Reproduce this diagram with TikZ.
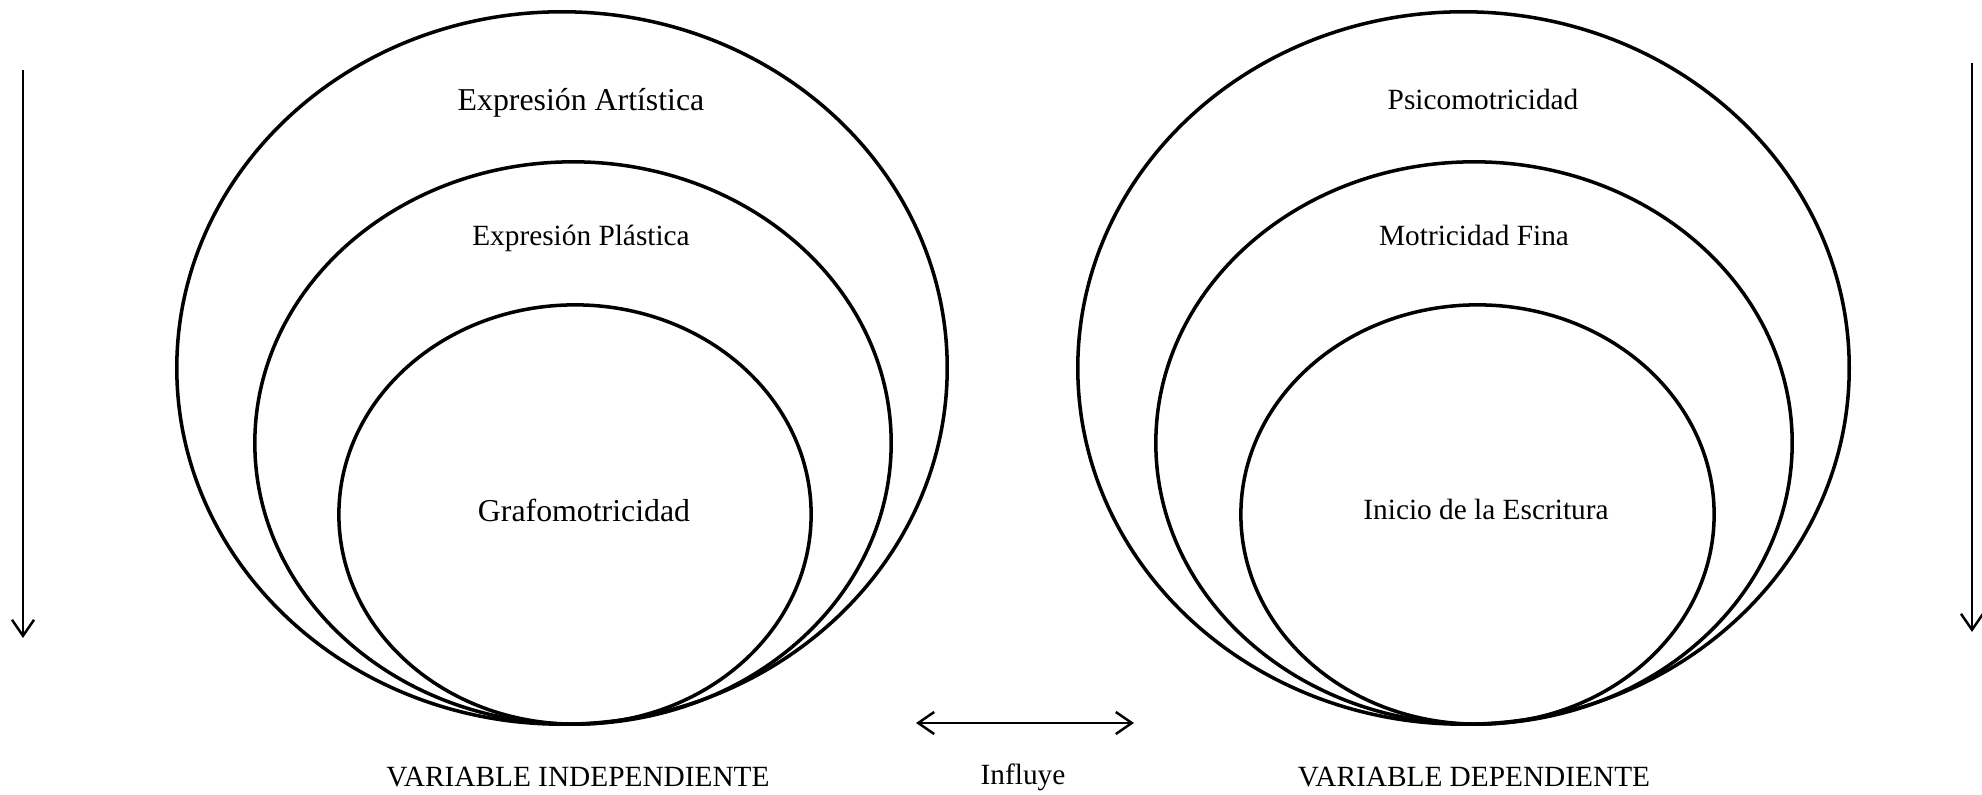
\documentclass[tikz,border=0pt]{standalone}
\usepackage{fontspec}
\setmainfont{Liberation Serif}
\usetikzlibrary{arrows.meta}
\tikzset{
  ring/.style={line width=1pt},
  lbl/.style={anchor=base, inner sep=0pt},
  big/.style={font=\fontsize{9.05}{10}\selectfont},
  small/.style={font=\fontsize{8.34}{10}\selectfont},
  arr/.style={line width=0.7pt, -{Straight Barb[length=1.6mm,width=2.2mm]}},
  darr/.style={line width=0.7pt, {Straight Barb[length=1.6mm,width=2.2mm]}-{Straight Barb[length=1.6mm,width=2.2mm]}}
}
\begin{document}
\begin{tikzpicture}[x=0.01cm,y=-0.01cm]
\useasboundingbox (0,0) rectangle (1982,795);
% left ellipses
\draw[ring] (562,368) ellipse [x radius=3.85cm, y radius=3.56cm];
\draw[ring] (573,443) ellipse [x radius=3.18cm, y radius=2.81cm];
\draw[ring] (575,514.5) ellipse [x radius=2.36cm, y radius=2.095cm];
% right ellipses
\draw[ring] (1463.5,368) ellipse [x radius=3.855cm, y radius=3.56cm];
\draw[ring] (1474,443) ellipse [x radius=3.18cm, y radius=2.81cm];
\draw[ring] (1477.5,514.5) ellipse [x radius=2.365cm, y radius=2.095cm];
% labels
\node[lbl,big] (ea) at (581,111) {Expresión Artística};
\node[lbl,small] (ep) at (581,246) {Expresión Plástica};
\node[lbl,big] (gm) at (584,522) {Grafomotricidad};
\node[lbl,small] (pm) at (1483,110) {Psicomotricidad};
\node[lbl,small] (mf) at (1474,246) {Motricidad Fina};
\node[lbl,small] (ie) at (1486,520) {Inicio de la Escritura};
\node[lbl,small] (vi) at (578,787) {VARIABLE INDEPENDIENTE};
\node[lbl,small] (inf) at (1023,785) {Influye};
\node[lbl,small] (vd) at (1474,787) {VARIABLE DEPENDIENTE};
% arrows
\coordinate (la1) at (23,70);
\coordinate (la2) at (23,638);
\coordinate (ra1) at (1972,63);
\coordinate (ra2) at (1972,632);
\coordinate (da1) at (916,723);
\coordinate (da2) at (1134,723);
\draw[arr] (la1) -- (la2);
\draw[arr] (ra1) -- (ra2);
\draw[darr] (da1) -- (da2);
\end{tikzpicture}
\end{document}
